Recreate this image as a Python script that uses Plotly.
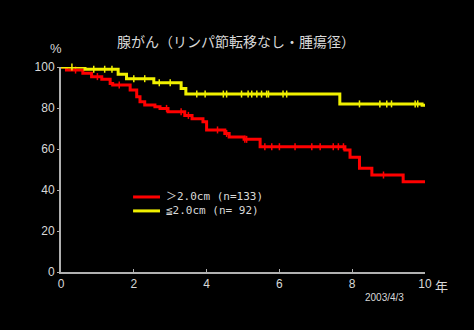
import plotly.graph_objects as go
import numpy as np

# Kaplan-Meier step data: time (years) and survival (%) after each step
red_t = [0, 0.15, 0.6, 0.84, 1.12, 1.35, 1.42, 1.9, 2.08, 2.17, 2.3, 2.58, 2.72, 2.94,
         3.4, 3.6, 3.9, 4.0, 4.5, 4.62, 5.03, 5.47, 7.8, 7.94, 8.2, 8.54, 9.4, 10.0]
red_s = [100, 98.5, 97, 95.3, 94, 92, 91.2, 88.8, 85.5, 83, 81.5, 80.6, 79.8, 78.2,
         76.4, 74.8, 73.3, 69.3, 67.6, 65.8, 64.7, 61.1, 59.5, 56, 50.6, 47.3, 44, 44]
yel_t = [0, 0.66, 1.57, 1.8, 2.55, 3.3, 3.43, 7.66, 9.92, 10.0]
yel_s = [100, 98.9, 96.5, 94.3, 92.3, 89.5, 86.8, 82.0, 81.4, 81.4]

# censored observations (years)
red_cens = [0.4, 1.0, 1.6, 2.9, 3.3, 3.5, 4.3, 4.55, 5.05, 5.1, 5.6, 5.79, 6.0, 6.43,
            6.89, 7.12, 7.48, 7.62, 7.76, 8.86]
yel_cens = [0.3, 0.9, 1.2, 1.4, 2.0, 2.3, 2.7, 3.0, 3.73, 3.96, 4.46, 4.55, 4.96, 5.14,
            5.24, 5.38, 5.51, 5.65, 5.7, 6.1, 6.2, 8.2, 8.76, 8.95, 9.08, 9.73, 9.8]

x_ticks = [0, 2, 4, 6, 8, 10]
y_ticks = [0, 20, 40, 60, 80, 100]

labels = ["＞2.0cm (n=133)", "≦2.0cm (n= 92)"]
title = "腺がん（リンパ節転移なし・腫瘍径）"
date_note = "2003/4/3"

RED = "#ff0000"
YEL = "#f0f000"
AXC = "#b0b0b0"
TXT = "#d8d8d8"
MONO = "DejaVu Sans Mono, Noto Sans CJK JP"


def step_value(t_arr, s_arr, t):
    idx = np.searchsorted(np.array(t_arr), t, side="right") - 1
    return s_arr[max(idx, 0)]


fig = go.Figure()
for t_arr, s_arr, cens, col, name in [
    (red_t, red_s, red_cens, RED, labels[0]),
    (yel_t, yel_s, yel_cens, YEL, labels[1]),
]:
    fig.add_trace(go.Scatter(
        x=t_arr, y=s_arr, mode="lines", line=dict(color=col, width=3, shape="hv"),
        name=name, cliponaxis=False, showlegend=False,
    ))
    fig.add_trace(go.Scatter(
        x=cens, y=[step_value(t_arr, s_arr, c) for c in cens], mode="markers",
        marker=dict(symbol="line-ns", size=5, line=dict(color=col, width=1.5)),
        showlegend=False, cliponaxis=False, hoverinfo="skip",
    ))

# hand-drawn legend: line swatch + label for each group
legend_y = [0.366, 0.298]
shapes = []
annotations = []
for lab, col, ly in zip(labels, [RED, YEL], legend_y):
    shapes.append(dict(type="line", xref="paper", yref="paper", x0=0.198, x1=0.272,
                       y0=ly, y1=ly, line=dict(color=col, width=3)))
    annotations.append(dict(text=lab, x=0.283, y=ly, xref="paper", yref="paper",
                            xanchor="left", yanchor="middle", showarrow=False,
                            font=dict(family=MONO, size=11, color=TXT)))

annotations += [
    dict(text=title, x=0.48, y=1.0, xref="paper", yref="paper", yanchor="bottom",
         yshift=14, showarrow=False,
         font=dict(family="Noto Sans CJK JP", size=14, color=TXT)),
    dict(text="%", x=-0.036, y=1.0, xref="paper", yref="paper", yanchor="bottom",
         yshift=9, showarrow=False, font=dict(family="Liberation Sans", size=13, color=TXT)),
    dict(text="年", x=1.0, y=0, xref="paper", yref="paper", xanchor="left",
         yanchor="top", xshift=8, yshift=-2, showarrow=False,
         font=dict(family="Noto Sans CJK JP", size=13, color=TXT)),
    dict(text=date_note, x=0.89, y=0, xref="paper", yref="paper", xanchor="center",
         yanchor="top", yshift=-18, showarrow=False,
         font=dict(family="Liberation Sans", size=10, color=TXT)),
]

fig.update_layout(
    width=474, height=330,
    margin=dict(l=61, r=49, t=67, b=58),
    paper_bgcolor="black", plot_bgcolor="black",
    font=dict(family=MONO, color=TXT, size=11),
    showlegend=False,
    shapes=shapes,
    annotations=annotations,
    xaxis=dict(
        range=[0, 10], tickvals=x_ticks, showgrid=False, zeroline=False,
        showline=True, linecolor=AXC, linewidth=2, ticks="inside", ticklen=3,
        tickcolor=AXC, tickfont=dict(family="Liberation Sans", size=12, color=TXT),
    ),
    yaxis=dict(
        range=[0, 100], tickvals=y_ticks, showgrid=False, zeroline=False,
        showline=True, linecolor=AXC, linewidth=2, ticks="outside", ticklen=2,
        tickcolor=AXC, tickfont=dict(family="Liberation Sans", size=12, color=TXT),
    ),
)

fig.write_html("out.html")
